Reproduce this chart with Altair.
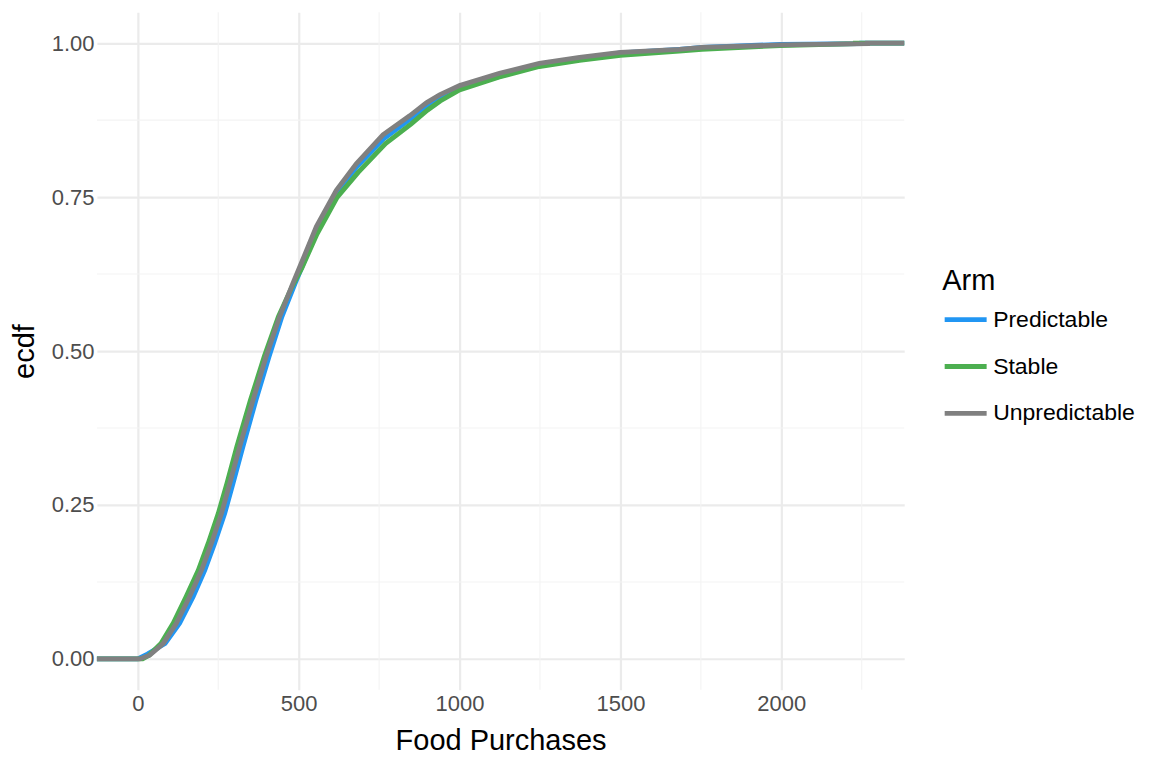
import altair as alt
import pandas as pd

# ---- data (x = Food Purchases, y = ecdf) ----
arms = ["Predictable", "Stable", "Unpredictable"]
colors = ["#2196F3", "#4CAF50", "#808080"]

pred_x = [-200, 0, 30, 85, 130, 172, 208, 239, 270, 296, 327, 367, 408, 448, 489, 517, 560, 620, 682, 765, 848, 900, 940, 1000, 1124, 1248, 1373, 1500, 1683, 1753, 1997, 2250, 2250, 2600]
pred_y = [0, 0, 0.008, 0.025, 0.058, 0.101, 0.144, 0.188, 0.236, 0.285, 0.345, 0.420, 0.491, 0.556, 0.610, 0.645, 0.700, 0.758, 0.800, 0.845, 0.877, 0.898, 0.911, 0.927, 0.946, 0.964, 0.975, 0.984, 0.990, 0.993, 0.998, 0.999, 1.0, 1.0]

stab_x = [-200, 15, 35, 72, 110, 150, 188, 219, 250, 277, 308, 350, 393, 437, 480, 510, 557, 620, 685, 770, 850, 900, 940, 1000, 1124, 1248, 1373, 1500, 1683, 1753, 1997, 2230, 2230, 2600]
stab_y = [0, 0, 0.006, 0.025, 0.058, 0.101, 0.144, 0.188, 0.236, 0.285, 0.345, 0.420, 0.491, 0.556, 0.605, 0.635, 0.690, 0.750, 0.790, 0.837, 0.869, 0.891, 0.906, 0.924, 0.945, 0.962, 0.972, 0.980, 0.987, 0.990, 0.996, 0.999, 1.0, 1.0]

unpr_x = [-200, 6, 37, 79, 120, 161, 198, 229, 260, 286, 317, 358, 399, 441, 482, 510, 555, 617, 679, 762, 845, 897, 938, 1000, 1124, 1248, 1373, 1500, 1683, 1753, 1997, 2268, 2268, 2600]
unpr_y = [0, 0, 0.006, 0.025, 0.058, 0.101, 0.144, 0.188, 0.236, 0.285, 0.345, 0.420, 0.491, 0.556, 0.610, 0.645, 0.702, 0.761, 0.804, 0.851, 0.882, 0.903, 0.916, 0.931, 0.951, 0.967, 0.977, 0.985, 0.990, 0.993, 0.997, 0.999, 1.0, 1.0]

x_ticks = [0, 500, 1000, 1500, 2000]
y_ticks = [0, 0.25, 0.5, 0.75, 1.0]
x_minor = [250, 750, 1250, 1750, 2250]
y_minor = [0.125, 0.375, 0.625, 0.875]
x_domain = [-127, 2382]
y_domain = [-0.05, 1.05]

rows = []
for arm, xs, ys in [("Predictable", pred_x, pred_y), ("Stable", stab_x, stab_y), ("Unpredictable", unpr_x, unpr_y)]:
    for i, (xv, yv) in enumerate(zip(xs, ys)):
        rows.append({"Arm": arm, "x": xv, "ecdf": yv, "order": i})
df = pd.DataFrame(rows)

FONT = "Liberation Sans"

xscale = alt.Scale(domain=x_domain, nice=False, zero=False)
yscale = alt.Scale(domain=y_domain, nice=False, zero=False)

minor_v = alt.Chart(pd.DataFrame({"v": x_minor})).mark_rule(
    color="#F3F3F3", strokeWidth=1.1
).encode(x=alt.X("v:Q", scale=xscale))

minor_h = alt.Chart(pd.DataFrame({"h": y_minor})).mark_rule(
    color="#F3F3F3", strokeWidth=1.1
).encode(y=alt.Y("h:Q", scale=yscale))

lines = alt.Chart(df).mark_line(strokeWidth=4.8, clip=True).encode(
    x=alt.X("x:Q", scale=xscale,
            axis=alt.Axis(values=x_ticks, format="d", title="Food Purchases",
                          titleY=51, titleBaseline="middle", labelPadding=4)),
    y=alt.Y("ecdf:Q", scale=yscale,
            axis=alt.Axis(values=y_ticks, format=".2f", title="ecdf",
                          titleX=-72, titleY=339, titleAngle=-90,
                          titleAlign="center", titleBaseline="middle",
                          labelPadding=3)),
    color=alt.Color("Arm:N",
                    scale=alt.Scale(domain=arms, range=colors),
                    legend=alt.Legend(title="Arm", orient="none",
                                      legendX=846, legendY=255,
                                      symbolType="stroke", symbolSize=1764,
                                      symbolStrokeWidth=4.8, rowPadding=11,
                                      labelOffset=4)),
    detail="Arm:N",
    order="order:Q",
)

chart = alt.layer(minor_v, minor_h, lines).properties(
    width=808, height=678,
    autosize=alt.AutoSizeParams(type="none"),
    padding={"left": 89, "top": 4, "right": 240, "bottom": 70},
).configure_view(stroke=None).configure_axis(
    labelFont=FONT, labelFontSize=22, labelColor="#4D4D4D",
    titleFont=FONT, titleFontSize=29, titleColor="#000000", titleFontWeight="normal",
    domain=False, ticks=False, tickSize=0,
    grid=True, gridColor="#EBEBEB", gridWidth=2.2,
).configure_legend(
    titleFont=FONT, titleFontSize=29, titleColor="#000000", titleFontWeight="normal",
    labelFont=FONT, labelFontSize=23, labelColor="#000000", titlePadding=0,
)

chart.save("out.html", embed_options={"renderer": "svg", "actions": False})
